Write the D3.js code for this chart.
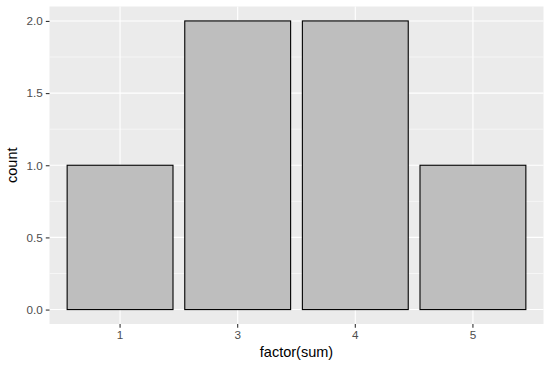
<!DOCTYPE html>
<html><head><meta charset="utf-8">
<script src="https://cdn.jsdelivr.net/npm/d3@7"></script>
<style>body{margin:0;background:#fff}svg{display:block}</style>
</head><body>
<script>
const categories = ["1","3","4","5"];
const counts = [1,2,2,1];
const yTicks = [0,0.5,1,1.5,2];
const yMinor = [0.25,0.75,1.25,1.75];

const W=551,H=370;
const L=49.5,R=543.5,T=6.5,B=324;
const svg=d3.select("body").append("svg").attr("width",W).attr("height",H);
const n=categories.length;
const x=d3.scaleBand().domain(categories).range([L+ (R-L)*0.6/(n-1+1.2) - (R-L)/(n-1+1.2)/2, R - (R-L)*0.6/(n-1+1.2) + (R-L)/(n-1+1.2)/2]).paddingInner(0.1).paddingOuter(0.05);
const y=d3.scaleLinear().domain([-0.1,2.1]).range([B,T]);

svg.append("rect").attr("x",L).attr("y",T).attr("width",R-L).attr("height",B-T).attr("fill","#EBEBEB");
const g=svg.append("g");
g.selectAll(".minor").data(yMinor).join("line").attr("x1",L).attr("x2",R).attr("y1",d=>y(d)).attr("y2",d=>y(d)).attr("stroke","#fff").attr("stroke-width",0.55);
g.selectAll(".major").data(yTicks).join("line").attr("x1",L).attr("x2",R).attr("y1",d=>y(d)).attr("y2",d=>y(d)).attr("stroke","#fff").attr("stroke-width",1.1);
const cx=d=>x(d)+x.bandwidth()/2;
g.selectAll(".vx").data(categories).join("line").attr("x1",cx).attr("x2",cx).attr("y1",T).attr("y2",B).attr("stroke","#fff").attr("stroke-width",1.1);

svg.selectAll(".bar").data(categories).join("rect")
 .attr("x",d=>x(d)).attr("width",x.bandwidth())
 .attr("y",(d,i)=>y(counts[i])).attr("height",(d,i)=>y(0)-y(counts[i]))
 .attr("fill","#BEBEBE").attr("stroke","#000").attr("stroke-width",1.1);

const yAxis=d3.axisLeft(y).tickValues(yTicks).tickFormat(d3.format(".1f")).tickSize(3.7).tickPadding(3);
const ya=svg.append("g").attr("transform",`translate(${L},0)`).call(yAxis);
const xAxis=d3.axisBottom(x).tickSize(3.7).tickPadding(3);
const xa=svg.append("g").attr("transform",`translate(0,${B})`).call(xAxis);
[ya,xa].forEach(a=>{a.select(".domain").remove();a.selectAll("line").attr("stroke","#333").attr("stroke-width",1.1);
 a.selectAll("text").attr("fill","#4D4D4D").attr("font-family","Liberation Sans, Arial, sans-serif").attr("font-size","11.7px");});

svg.append("text").attr("x",(L+R)/2).attr("y",357).attr("text-anchor","middle").attr("font-family","Liberation Sans, Arial, sans-serif").attr("font-size","14.5px").attr("fill","#000").text("factor(sum)");
svg.append("text").attr("transform",`translate(17,${(T+B)/2}) rotate(-90)`).attr("text-anchor","middle").attr("font-family","Liberation Sans, Arial, sans-serif").attr("font-size","14.5px").attr("fill","#000").text("count");
</script>
</body></html>
